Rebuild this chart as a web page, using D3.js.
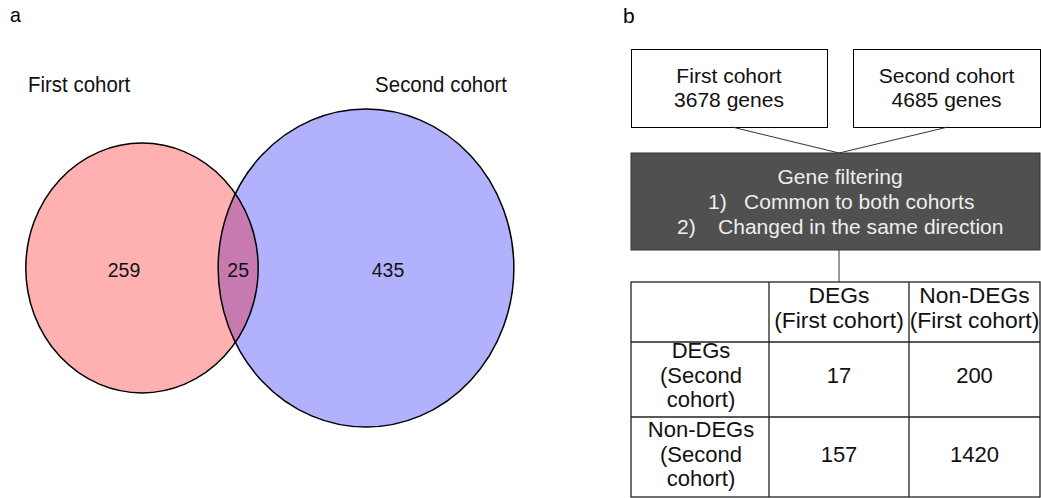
<!DOCTYPE html>
<html>
<head>
<meta charset="utf-8">
<script src="https://cdn.jsdelivr.net/npm/d3@7.9.0/dist/d3.min.js"></script>
<style>
  body { margin: 0; background: #fff; }
  svg { display: block; font-family: "Liberation Sans", Arial, sans-serif; }
</style>
</head>
<body>
<svg id="chart" width="1041" height="498"></svg>
<script>
// panel a: venn counts
const setNames = ["First cohort", "Second cohort"];
const onlyCounts = [259, 435];
const sharedCount = 25;
const setColors = ["#ffb1b1", "#b1b1fd"];
const sharedColor = "#c77aaf";

// panel b: flow boxes + 2x2 table
const sourceBoxes = [
  { name: "First cohort", genes: 3678 },
  { name: "Second cohort", genes: 4685 }
];
const filterTitle = "Gene filtering";
const filterSteps = [["1)", "Common to both cohorts"], ["2)", "Changed in the same direction"]];
const colHeads = [["DEGs", "(First cohort)"], ["Non-DEGs", "(First cohort)"]];
const rowHeads = [["DEGs", "(Second", "cohort)"], ["Non-DEGs", "(Second", "cohort)"]];
const tableValues = [[17, 200], [157, 1420]];

const svg = d3.select("#chart");

// text helper; the two panels were scaled unevenly in the original figure
function label(g, str, x, y, size, sx, anchor = "middle", fill = "#111") {
  return g.append("text")
    .attr("transform", `translate(${x},${y}) scale(${sx},1)`)
    .attr("text-anchor", anchor)
    .attr("font-size", size)
    .attr("fill", fill)
    .text(str);
}

const sqA = 0.93;
label(svg, "a", 10, 22, 21, sqA, "start", "#000");
label(svg, "b", 623, 23, 20, 1.05, "start", "#000");

// ---------- venn ----------
const setSizes = [onlyCounts[0] + sharedCount, onlyCounts[1] + sharedCount];
const rScale = d3.scaleSqrt().domain([0, d3.max(setSizes)]).range([0, 159]);
const cy = 268;
const circles = [
  { cx: 142, size: setSizes[0] },
  { cx: 366, size: setSizes[1] }
];
circles.forEach(c => { c.ry = rScale(c.size); c.rx = c.ry * sqA; });

const venn = svg.append("g");
svg.append("defs").append("clipPath").attr("id", "clipLeft")
  .append("ellipse")
  .attr("cx", circles[0].cx).attr("cy", cy)
  .attr("rx", circles[0].rx).attr("ry", circles[0].ry);

venn.selectAll("ellipse.fill")
  .data(circles)
  .join("ellipse")
  .attr("class", "fill")
  .attr("cx", d => d.cx).attr("cy", cy)
  .attr("rx", d => d.rx).attr("ry", d => d.ry)
  .attr("fill", (d, i) => setColors[i]);

venn.append("ellipse")
  .attr("cx", circles[1].cx).attr("cy", cy)
  .attr("rx", circles[1].rx).attr("ry", circles[1].ry)
  .attr("clip-path", "url(#clipLeft)")
  .attr("fill", sharedColor);

venn.selectAll("ellipse.edge")
  .data(circles)
  .join("ellipse")
  .attr("class", "edge")
  .attr("cx", d => d.cx).attr("cy", cy)
  .attr("rx", d => d.rx).attr("ry", d => d.ry)
  .attr("fill", "none")
  .attr("stroke", "#000")
  .attr("stroke-width", 1.5);

const leftEdgeOfRight = circles[1].cx - circles[1].rx;
const rightEdgeOfLeft = circles[0].cx + circles[0].rx;
const regionX = [
  (circles[0].cx - circles[0].rx + leftEdgeOfRight) / 2 + 2,
  (leftEdgeOfRight + rightEdgeOfLeft) / 2,
  circles[1].cx + 22
];
[onlyCounts[0], sharedCount, onlyCounts[1]].forEach((v, i) =>
  label(venn, v, regionX[i], 277, 21, sqA));

label(venn, setNames[0], 28, 92, 22, sqA, "start");
label(venn, setNames[1], 507, 92, 22, sqA, "end");

// ---------- flow ----------
const flow = svg.append("g");
const boxX = [631, 853];
const boxW = [196, 187];
const boxTop = 49, boxBot = 127;
const filterTop = 153, filterBot = 250, filterX = 631, filterR = 1040;
const joinX = 839;
const fsB = 19.5, sxB = 1.08;

sourceBoxes.forEach((b, i) => {
  flow.append("rect")
    .attr("x", boxX[i] + 0.5).attr("y", boxTop + 0.5)
    .attr("width", boxW[i]).attr("height", boxBot - boxTop)
    .attr("fill", "#fff").attr("stroke", "#000").attr("stroke-width", 1);
  const mid = boxX[i] + boxW[i] / 2;
  label(flow, b.name, mid, 83, fsB, sxB);
  label(flow, `${b.genes} genes`, mid, 107, fsB, sxB);
});

flow.append("path")
  .attr("d", d3.line()([[732, boxBot], [joinX, filterTop], [948, boxBot]]))
  .attr("fill", "none").attr("stroke", "#333").attr("stroke-width", 1);

flow.append("rect")
  .attr("x", filterX).attr("y", filterTop)
  .attr("width", filterR - filterX).attr("height", filterBot - filterTop)
  .attr("fill", "#505050").attr("stroke", "#333");

label(flow, filterTitle, joinX + 1, 184, fsB, sxB, "middle", "#eee");
const stepX = [[708, 744], [677, 718]];
filterSteps.forEach((s, i) => {
  label(flow, s[0], stepX[i][0], 209 + i * 24.5, fsB, sxB, "start", "#eee");
  label(flow, s[1], stepX[i][1], 209 + i * 24.5, fsB, sxB, "start", "#eee");
});

flow.append("line")
  .attr("x1", joinX).attr("x2", joinX)
  .attr("y1", filterBot).attr("y2", 282)
  .attr("stroke", "#333");

// ---------- table ----------
const colEdges = [631, 769, 909, 1040];
const rowEdges = [282, 342, 417, 497];
const table = svg.append("g");
const fsT = 22;

table.append("rect")
  .attr("x", colEdges[0]).attr("y", rowEdges[0])
  .attr("width", colEdges[3] - colEdges[0]).attr("height", rowEdges[3] - rowEdges[0])
  .attr("fill", "#fff").attr("stroke", "#222").attr("stroke-width", 1.3);

table.selectAll("line.col")
  .data(colEdges.slice(1, 3))
  .join("line")
  .attr("class", "col")
  .attr("x1", d => d).attr("x2", d => d)
  .attr("y1", rowEdges[0]).attr("y2", rowEdges[3])
  .attr("stroke", "#222").attr("stroke-width", 1.3);

table.selectAll("line.row")
  .data(rowEdges.slice(1, 3))
  .join("line")
  .attr("class", "row")
  .attr("x1", colEdges[0]).attr("x2", colEdges[3])
  .attr("y1", d => d).attr("y2", d => d)
  .attr("stroke", "#222").attr("stroke-width", 1.3);

const colMid = i => (colEdges[i] + colEdges[i + 1]) / 2;
const headBase = [303, 328];
const rowBase = [[358, 383, 407], [437, 462, 486]];
const valueBase = [383, 462];

colHeads.forEach((h, j) => h.forEach((s, k) => label(table, s, colMid(j + 1), headBase[k], fsT, 1.04)));
rowHeads.forEach((h, i) => h.forEach((s, k) => label(table, s, colMid(0) + 1, rowBase[i][k], fsT, 1.0)));
tableValues.forEach((row, i) =>
  row.forEach((v, j) => label(table, v, colMid(j + 1), valueBase[i], fsT, 1.0)));
</script>
</body>
</html>
